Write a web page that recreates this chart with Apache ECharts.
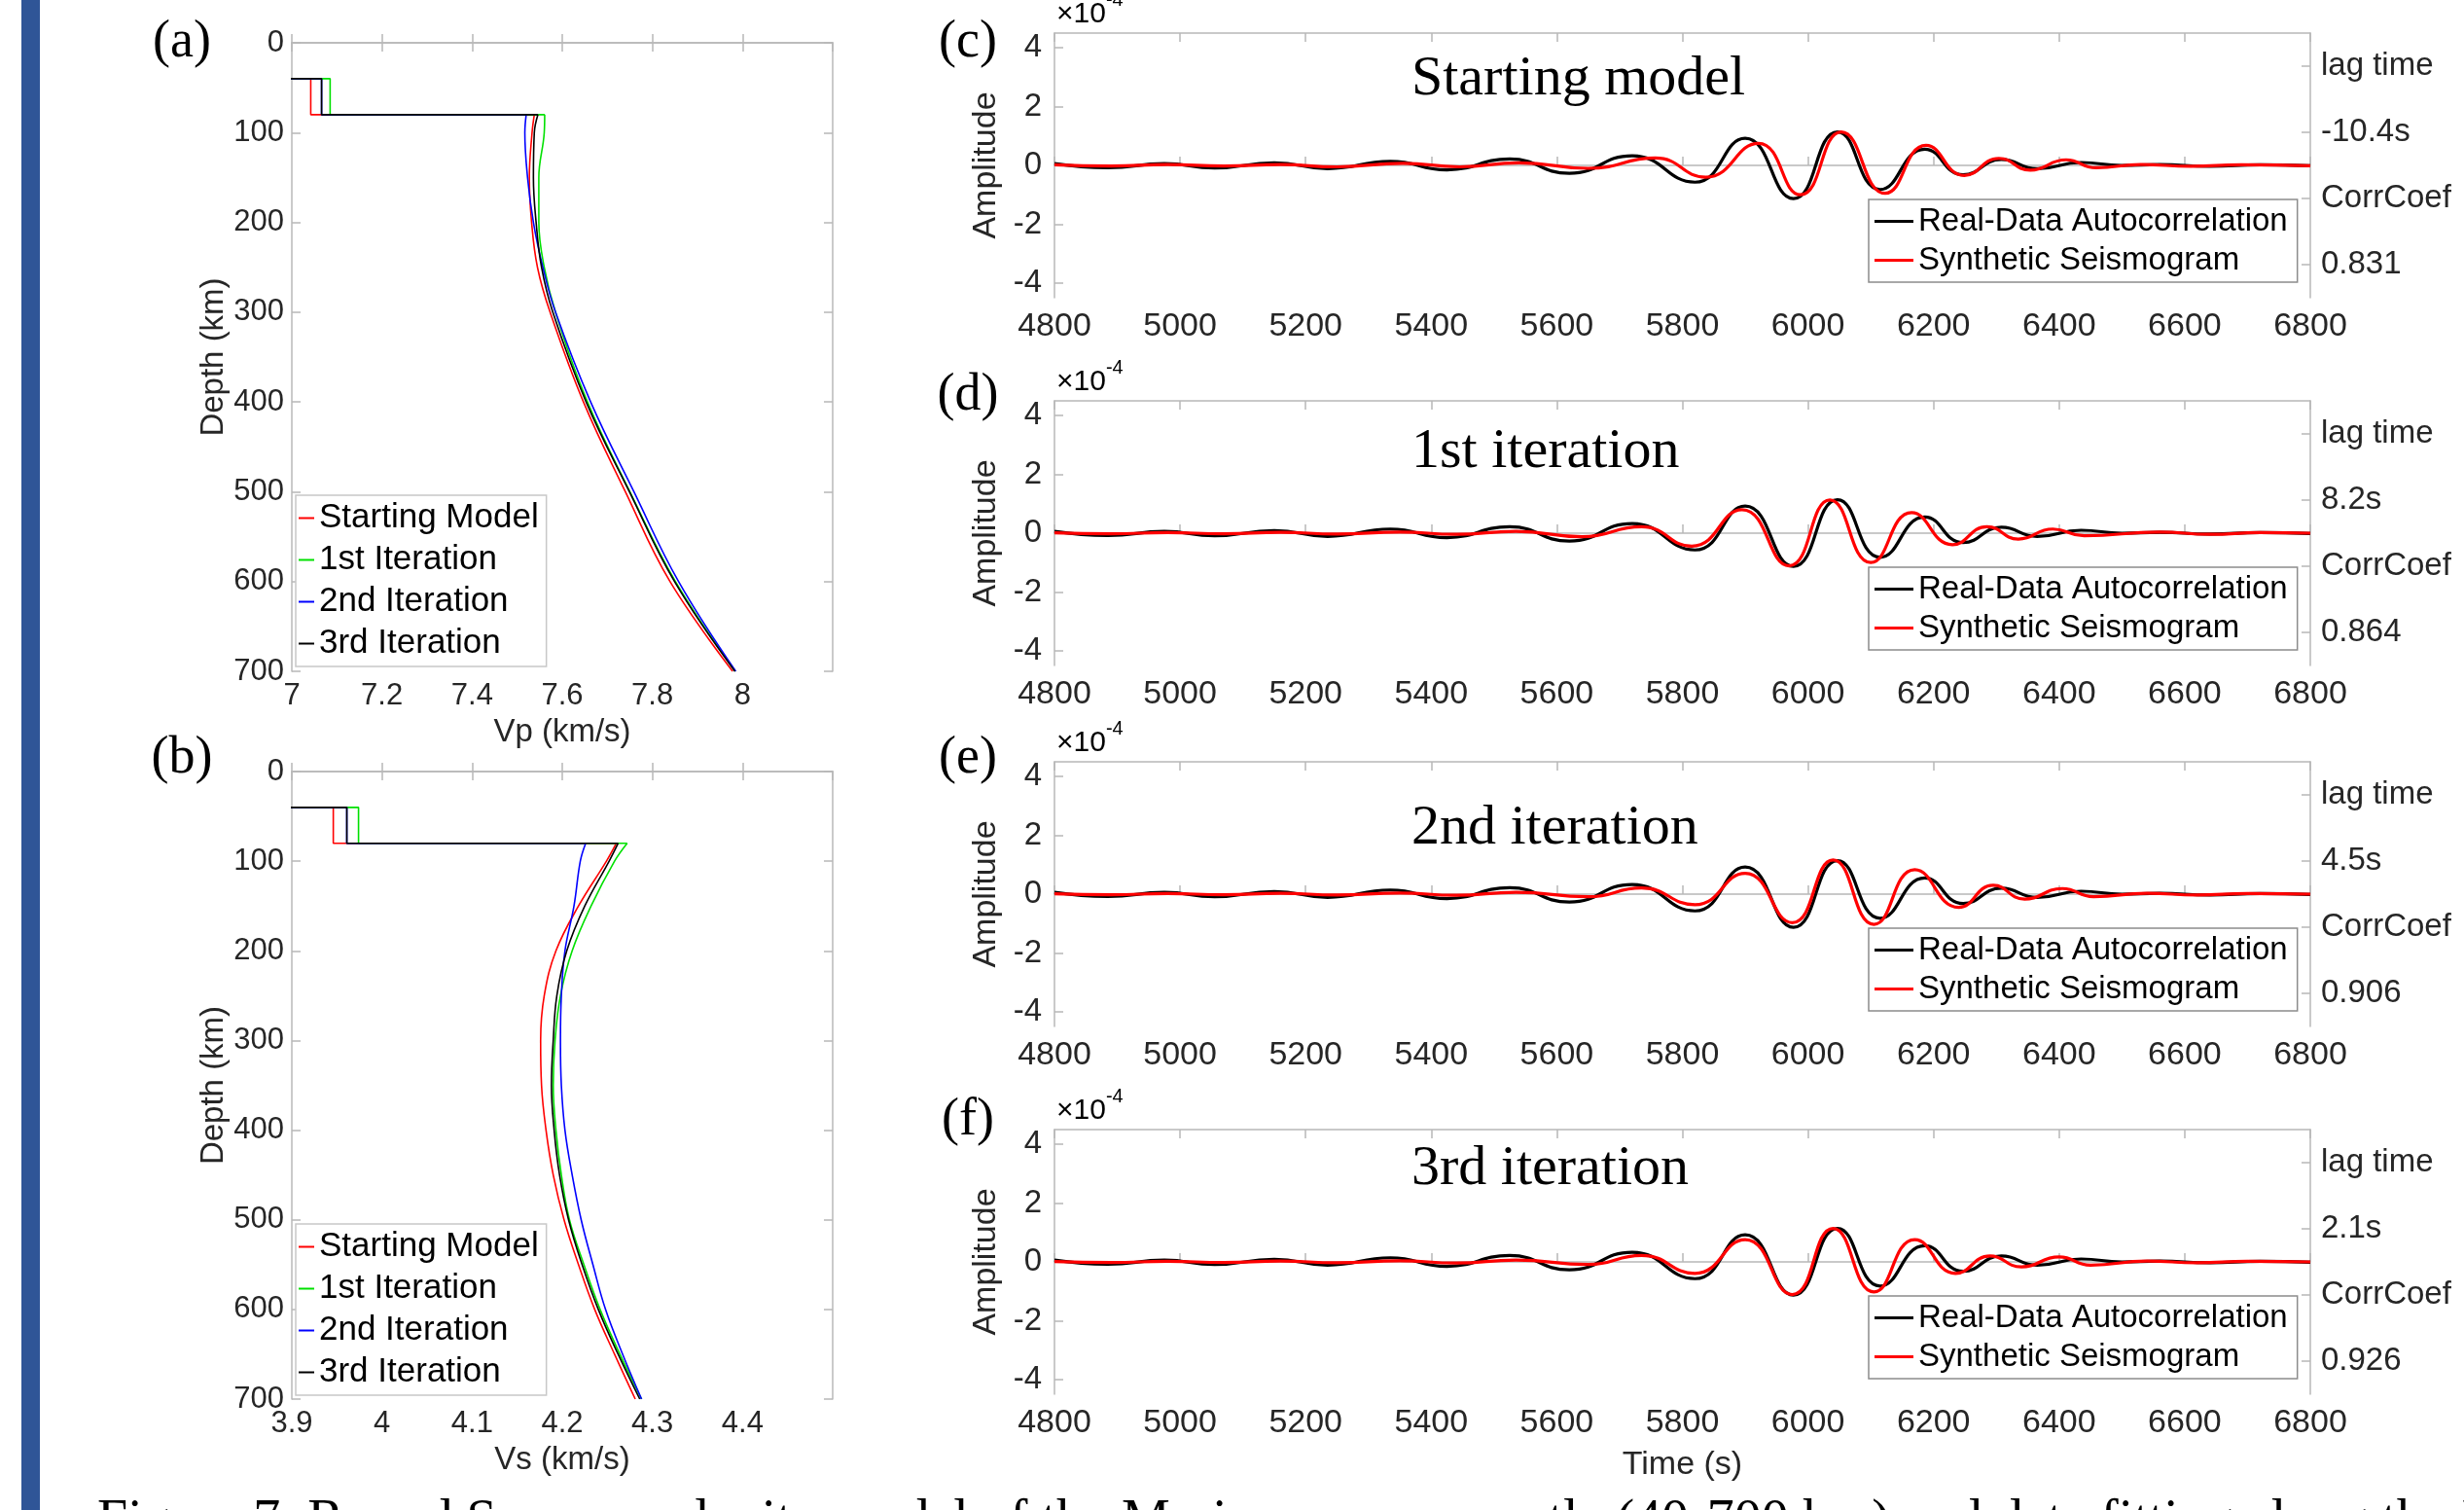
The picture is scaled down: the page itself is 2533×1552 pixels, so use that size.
<!DOCTYPE html>
<html>
<head>
<meta charset="utf-8">
<script src="https://cdn.jsdelivr.net/npm/echarts@6.0.0/dist/echarts.min.js"></script>
<style>
html, body { margin: 0; padding: 0; background: #fff; }
#main { width: 2533px; height: 1552px; }
</style>
</head>
<body>
<div id="main"></div>
<script>
// ---- velocity models, panels (a) Vp and (b) Vs ----
var modelNames = ['Starting Model', '1st Iteration', '2nd Iteration', '3rd Iteration'];
var stepDepths = [40, 80];

var vpAbove = 6.9;   // crust above 40 km is off the axis
var vpLayer = [7.042, 7.085, 7.066, 7.066];
var vpDepths = [80, 100, 150, 200, 250, 300, 400, 500, 600, 700];
var vpStart = [7.538, 7.533, 7.527, 7.532, 7.545, 7.573, 7.647, 7.740, 7.839, 7.978];
var vpIter1 = [7.561, 7.560, 7.548, 7.548, 7.560, 7.585, 7.656, 7.750, 7.851, 7.984];
var vpIter2 = [7.520, 7.517, 7.523, 7.536, 7.557, 7.585, 7.663, 7.759, 7.858, 7.985];
var vpIter3 = [7.546, 7.538, 7.536, 7.542, 7.554, 7.579, 7.653, 7.749, 7.849, 7.983];

var vsAbove = 3.8;
var vsLayer = [3.946, 3.974, 3.961, 3.961];
var vsDepths = [80, 100, 150, 200, 250, 300, 350, 400, 450, 500, 550, 600, 650, 700];
var vsStart = [4.260, 4.249, 4.218, 4.193, 4.180, 4.176, 4.177, 4.182, 4.190, 4.202, 4.218, 4.236, 4.258, 4.281];
var vsIter1 = [4.272, 4.258, 4.232, 4.211, 4.198, 4.192, 4.190, 4.193, 4.199, 4.208, 4.224, 4.242, 4.264, 4.288];
var vsIter2 = [4.226, 4.220, 4.213, 4.203, 4.199, 4.198, 4.199, 4.203, 4.211, 4.221, 4.234, 4.248, 4.267, 4.288];
var vsIter3 = [4.262, 4.252, 4.225, 4.205, 4.194, 4.190, 4.188, 4.191, 4.197, 4.207, 4.222, 4.240, 4.262, 4.286];

// ---- waveforms, panels (c)-(f), amplitude in 1e-4 ----
var realT = [4800, 4885, 4975, 5055, 5150, 5235, 5335, 5425, 5525, 5620, 5720, 5820, 5900, 5977, 6047, 6115, 6186, 6247, 6308, 6365, 6435, 6500, 6560, 6640, 6720, 6800];
var realA = [0.06, -0.08, 0.06, -0.09, 0.09, -0.11, 0.14, -0.15, 0.22, -0.27, 0.33, -0.57, 0.92, -1.13, 1.14, -0.82, 0.55, -0.32, 0.20, -0.11, 0.10, 0.00, 0.03, -0.03, 0.02, -0.01];

var synT0 = [4800, 4890, 4980, 5070, 5160, 5250, 5355, 5445, 5540, 5650, 5757, 5837, 5921, 5988, 6053, 6123, 6188, 6249, 6304, 6354, 6411, 6459, 6530, 6610, 6690, 6800];
var synA0 = [0.02, -0.02, 0.03, -0.02, 0.03, -0.05, 0.07, -0.05, 0.09, -0.10, 0.25, -0.40, 0.75, -1.00, 1.14, -0.95, 0.68, -0.34, 0.24, -0.16, 0.19, -0.08, 0.03, -0.03, 0.02, -0.01];
var synT1 = [4800, 4890, 4980, 5070, 5160, 5250, 5350, 5440, 5535, 5640, 5735, 5815, 5895, 5970, 6035, 6100, 6165, 6230, 6285, 6335, 6390, 6440, 6560, 6640, 6720, 6800];
var synA1 = [0.01, -0.02, 0.02, -0.02, 0.03, -0.03, 0.04, -0.04, 0.06, -0.12, 0.22, -0.44, 0.80, -1.11, 1.13, -1.00, 0.70, -0.39, 0.22, -0.20, 0.14, -0.09, 0.04, -0.04, 0.02, 0.00];
var synT2 = [4800, 4890, 4980, 5070, 5160, 5250, 5350, 5440, 5535, 5650, 5735, 5820, 5900, 5975, 6040, 6105, 6170, 6240, 6295, 6345, 6405, 6455, 6540, 6620, 6700, 6800];
var synA2 = [0.01, -0.02, 0.02, -0.02, 0.03, -0.03, 0.04, -0.04, 0.06, -0.09, 0.21, -0.36, 0.71, -0.97, 1.16, -1.03, 0.83, -0.45, 0.30, -0.17, 0.19, -0.09, 0.03, -0.03, 0.02, 0.00];
var synT3 = [4800, 4890, 4980, 5070, 5160, 5250, 5350, 5440, 5535, 5650, 5735, 5820, 5900, 5975, 6040, 6105, 6170, 6235, 6290, 6340, 6400, 6450, 6540, 6620, 6700, 6800];
var synA3 = [0.01, -0.02, 0.02, -0.02, 0.03, -0.03, 0.04, -0.04, 0.06, -0.09, 0.22, -0.39, 0.76, -1.11, 1.14, -1.02, 0.76, -0.39, 0.20, -0.17, 0.17, -0.11, 0.03, -0.03, 0.02, 0.00];

var panelTitles = ['Starting model', '1st iteration', '2nd iteration', '3rd iteration'];
var lagTimes = ['-10.4s', '8.2s', '4.5s', '2.1s'];
var corrCoefs = ['0.831', '0.864', '0.906', '0.926'];
var ampTicks = [-4, -2, 0, 2, 4];

var SANS = '"Liberation Sans", Arial, sans-serif';
var SERIF = '"Liberation Serif", "Times New Roman", serif';
var INK = '#262626';
var FRAME = '#b8b8b8';
var modelColors = ['#ff0000', '#00e000', '#0000ff', '#000000'];

var grids = [
    {left: 300, top: 44, width: 556, height: 646},
    {left: 300, top: 793, width: 556, height: 645},
    {left: 1084, top: 34, width: 1291, height: 272},
    {left: 1084, top: 412, width: 1291, height: 272},
    {left: 1084, top: 783, width: 1291, height: 272},
    {left: 1084, top: 1161, width: 1291, height: 272}
];

var frameLine = {show: true, lineStyle: {color: FRAME, width: 1.5}};
var inTick = {show: true, inside: true, length: 9, lineStyle: {color: FRAME, width: 1.5}};
var noSplit = {show: false};
var plainNum = function (v) { return String(v); };

var xAxes = [], yAxes = [], series = [], legends = [], graphics = [];

// velocity panels
function velocityPanel(gi, min, max, step, label, above, layer, depths, models) {
    xAxes.push({
        type: 'value', gridIndex: gi, min: min, max: max, interval: step,
        axisLine: frameLine, axisTick: inTick, splitLine: noSplit,
        axisLabel: {showMaxLabel: false, margin: 10, fontSize: 31, color: INK, fontFamily: SANS},
        name: label, nameLocation: 'middle', nameGap: 46,
        nameTextStyle: {fontSize: 33, color: INK, fontFamily: SANS}
    });
    xAxes.push({
        type: 'value', gridIndex: gi, position: 'top', min: min, max: max, interval: step,
        axisLine: frameLine, axisTick: inTick, splitLine: noSplit, axisLabel: {show: false}
    });
    yAxes.push({
        type: 'value', gridIndex: gi, min: 0, max: 700, interval: 100, inverse: true,
        axisLine: frameLine, axisTick: inTick, splitLine: noSplit,
        axisLabel: {margin: 8, fontSize: 31, color: INK, fontFamily: SANS},
        name: 'Depth (km)', nameLocation: 'middle', nameGap: 62,
        nameTextStyle: {fontSize: 33, color: INK, fontFamily: SANS}
    });
    yAxes.push({
        type: 'value', gridIndex: gi, position: 'right', min: 0, max: 700, interval: 100, inverse: true,
        axisLine: frameLine, axisTick: inTick, splitLine: noSplit, axisLabel: {show: false}
    });
    for (var m = 0; m < 4; m++) {
        var vals = models[m];
        var stepData = [[above, stepDepths[0]], [layer[m], stepDepths[0]], [layer[m], stepDepths[1]], [vals[0], depths[0]]];
        var curveData = depths.map(function (d, k) { return [vals[k], d]; });
        var base = {
            name: modelNames[m], type: 'line', xAxisIndex: 2 * gi, yAxisIndex: 2 * gi,
            symbol: 'none', clip: true, z: 2 + m, animation: false,
            lineStyle: {color: modelColors[m], width: 1.6}, itemStyle: {color: modelColors[m]}
        };
        series.push(Object.assign({}, base, {data: stepData}));
        series.push(Object.assign({}, base, {data: curveData, smooth: 0.4}));
    }
    legends.push({
        data: modelNames, orient: 'vertical', icon: 'rect',
        left: grids[gi].left + 4, top: grids[gi].top + 465,
        itemWidth: 16, itemHeight: 2, itemGap: 8,
        padding: [6, 8, 6, 3],
        borderColor: '#c8c8c8', borderWidth: 1.5, backgroundColor: '#fff',
        textStyle: {fontSize: 35, color: '#000', fontFamily: SANS}
    });
}

velocityPanel(0, 7, 8.2, 0.2, 'Vp (km/s)', vpAbove, vpLayer, vpDepths, [vpStart, vpIter1, vpIter2, vpIter3]);
velocityPanel(1, 3.9, 4.5, 0.1, 'Vs (km/s)', vsAbove, vsLayer, vsDepths, [vsStart, vsIter1, vsIter2, vsIter3]);

// waveform panels
function pairs(t, a) { return t.map(function (x, i) { return [x, a[i]]; }); }
var synT = [synT0, synT1, synT2, synT3];
var synA = [synA0, synA1, synA2, synA3];

for (var k = 0; k < 4; k++) {
    var gi = k + 2;
    var last = (k === 3);
    xAxes.push({
        type: 'value', gridIndex: gi, min: 4800, max: 6800, interval: 200,
        axisLine: frameLine, axisTick: inTick, splitLine: noSplit,
        axisLabel: {formatter: plainNum, margin: 13, fontSize: 34, color: INK, fontFamily: SANS},
        name: last ? 'Time (s)' : '', nameLocation: 'middle', nameGap: 56,
        nameTextStyle: {fontSize: 34, color: INK, fontFamily: SANS}
    });
    xAxes.push({
        type: 'value', gridIndex: gi, position: 'top', min: 4800, max: 6800, interval: 200,
        axisLine: frameLine, axisTick: inTick, splitLine: noSplit, axisLabel: {show: false}
    });
    yAxes.push({
        type: 'value', gridIndex: gi, min: -4.5, max: 4.5,
        axisLine: frameLine, splitLine: noSplit,
        axisTick: Object.assign({}, inTick, {customValues: ampTicks}),
        axisLabel: {customValues: ampTicks, margin: 13, fontSize: 33, color: INK, fontFamily: SANS},
        name: 'Amplitude', nameLocation: 'middle', nameGap: 49,
        nameTextStyle: {fontSize: 34, color: INK, fontFamily: SANS}
    });
    yAxes.push({
        type: 'category', gridIndex: gi, position: 'right', boundaryGap: true,
        data: [corrCoefs[k], 'CorrCoef', lagTimes[k], 'lag time'],
        axisLine: frameLine, splitLine: noSplit,
        axisTick: Object.assign({}, inTick, {alignWithLabel: true}),
        axisLabel: {interval: 0, margin: 11, fontSize: 33, color: INK, fontFamily: SANS}
    });
    series.push({
        name: 'Real-Data Autocorrelation', type: 'line', xAxisIndex: 2 * gi, yAxisIndex: 2 * gi,
        data: pairs(realT, realA), smooth: 0.5, symbol: 'none', animation: false, z: 3,
        lineStyle: {color: '#000', width: 3.2}, itemStyle: {color: '#000'}
    });
    series.push({
        name: 'Synthetic Seismogram', type: 'line', xAxisIndex: 2 * gi, yAxisIndex: 2 * gi,
        data: pairs(synT[k], synA[k]), smooth: 0.5, symbol: 'none', animation: false, z: 4,
        lineStyle: {color: '#ff0000', width: 3.2}, itemStyle: {color: '#ff0000'}
    });
    legends.push({
        data: ['Real-Data Autocorrelation', 'Synthetic Seismogram'], orient: 'vertical', icon: 'rect',
        left: 1921, top: grids[gi].top + 171,
        itemWidth: 40, itemHeight: 3, itemGap: 7,
        padding: [6, 10, 6, 6],
        borderColor: '#8c8c8c', borderWidth: 1.5, backgroundColor: '#fff',
        textStyle: {fontSize: 33, color: '#000', fontFamily: SANS}
    });
}

// panel letters, titles, x10^-4 marks
var letters = [['(a)', 187, 44], ['(b)', 187, 780], ['(c)', 995, 44], ['(d)', 995, 407], ['(e)', 995, 780], ['(f)', 995, 1152]];
letters.forEach(function (l) {
    graphics.push({type: 'text', x: l[1], y: l[2], style: {
        text: l[0], font: '54px ' + SERIF, fill: '#000', textAlign: 'center', textVerticalAlign: 'middle'}});
});
var titleY = [82, 465, 852, 1202];
panelTitles.forEach(function (t, i) {
    graphics.push({type: 'text', x: 1451, y: titleY[i], style: {
        text: t, font: '58px ' + SERIF, fill: '#000', textAlign: 'left', textVerticalAlign: 'middle'}});
    graphics.push({type: 'text', x: 1086, y: grids[i + 2].top - 24, style: {
        text: '{a|×10}{b|-4}', textAlign: 'left', textVerticalAlign: 'middle',
        rich: {
            a: {fontSize: 30, fontFamily: SANS, color: INK, lineHeight: 40, verticalAlign: 'bottom'},
            b: {fontSize: 20, fontFamily: SANS, color: INK, lineHeight: 40, verticalAlign: 'top'}
        }}});
});

// blue margin bar and the clipped caption line
graphics.push({type: 'rect', shape: {x: 22, y: 0, width: 19, height: 1552}, style: {fill: '#2f5597'}});
graphics.push({type: 'text', x: 100, y: 1537, style: {
    text: 'Figure 7. Round S-wave velocity model of the Mariana upper mantle (40-700 km) and data fitting along the Mariana',
    font: '56px ' + SERIF, fill: '#000', textAlign: 'left', textVerticalAlign: 'top'}});

var chart = echarts.init(document.getElementById('main'));
chart.setOption({
    backgroundColor: '#fff',
    animation: false,
    grid: grids,
    xAxis: xAxes,
    yAxis: yAxes,
    legend: legends,
    series: series,
    graphic: graphics
});
</script>
</body>
</html>
